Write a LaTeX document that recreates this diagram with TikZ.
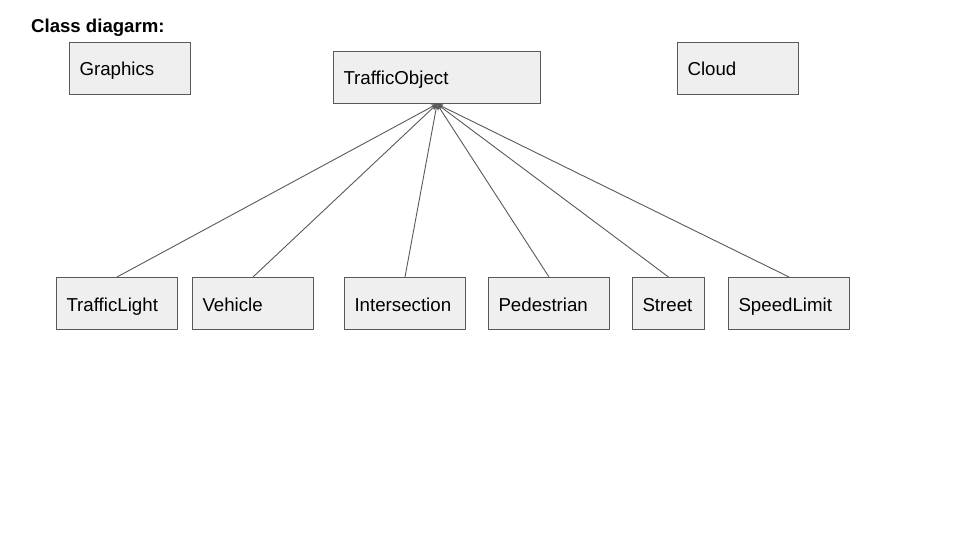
\documentclass[tikz,border=0pt]{standalone}
\usepackage{fontspec}
\setmainfont{Liberation Sans}
\usetikzlibrary{arrows.meta}
\definecolor{boxfill}{HTML}{EFEFEF}
\definecolor{boxline}{HTML}{595959}
\tikzset{
  cls/.style={draw=boxline, fill=boxfill, line width=1pt, minimum height=52pt,
    inner xsep=10pt, inner ysep=0pt, align=left, anchor=north west,
    text height=15pt, text depth=0pt,
    font=\fontsize{18.7}{22}\selectfont},
  gen/.style={draw=boxline, line width=0.9pt, -{Stealth[length=6pt,width=5pt]}}
}
\begin{document}
\begin{tikzpicture}[x=1pt,y=-1pt]
\useasboundingbox (0,0) rectangle (960,540);
\node[anchor=base west, font=\bfseries\fontsize{18.6}{21}\selectfont, inner sep=0pt] (title) at (31,33) {Class diagarm:};
\node[cls, text width=101pt] (graphics) at (69,42) {Graphics};
\node[cls, text width=187pt] (traffic) at (333,51) {TrafficObject};
\node[cls, text width=101pt] (cloud) at (677,42) {Cloud};
\node[cls, text width=101pt] (light) at (56,277) {TrafficLight};
\node[cls, text width=101pt] (vehicle) at (192,277) {Vehicle};
\node[cls, text width=101pt] (inter) at (344,277) {Intersection};
\node[cls, text width=101pt] (ped) at (488,277) {Pedestrian};
\node[cls, text width=52pt] (street) at (632,277) {Street};
\node[cls, text width=101pt] (speed) at (728,277) {SpeedLimit};
\foreach \c in {light,vehicle,inter,ped,street,speed}
  \draw[gen] (\c.north) -- (traffic.south);
\end{tikzpicture}
\end{document}
